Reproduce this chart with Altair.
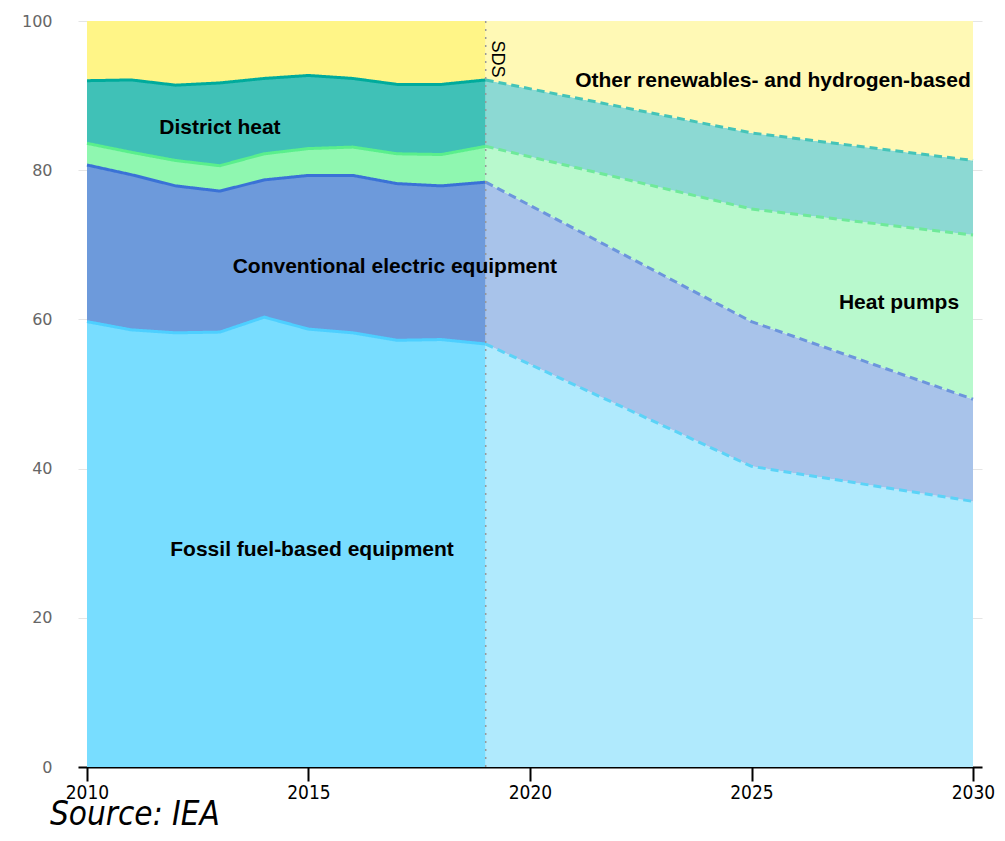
import altair as alt
import pandas as pd

categories = ["Fossil fuel-based equipment", "Conventional electric equipment",
              "Heat pumps", "District heat", "Other renewables- and hydrogen-based"]

hist_years = [2010, 2011, 2012, 2013, 2014, 2015, 2016, 2017, 2018, 2019]
hist_fossil = [59.7, 58.6, 58.2, 58.3, 60.3, 58.7, 58.2, 57.2, 57.3, 56.7]
hist_conv = [21.0, 20.8, 19.7, 18.9, 18.4, 20.6, 21.1, 21.0, 20.6, 21.7]
hist_hp = [2.9, 3.0, 3.4, 3.4, 3.5, 3.6, 3.8, 4.0, 4.2, 4.8]
hist_dh = [8.4, 9.7, 10.1, 11.1, 10.1, 9.8, 9.2, 9.3, 9.4, 8.9]
hist_other = [8.0, 7.9, 8.6, 8.3, 7.7, 7.3, 7.7, 8.5, 8.5, 7.9]

proj_years = [2019, 2025, 2030]
proj_fossil = [56.7, 40.3, 35.6]
proj_conv = [21.7, 19.4, 13.7]
proj_hp = [4.8, 15.1, 22.0]
proj_dh = [8.9, 10.2, 10.0]
proj_other = [7.9, 15.0, 18.7]

x_ticks = [2010, 2015, 2020, 2025, 2030]
y_ticks = [0, 20, 40, 60, 80, 100]

hist_fill = ["#78ddff", "#6d9adb", "#8ff7b0", "#40c1b7", "#fff587"]
hist_line = ["#4dcfff", "#3a72d6", "#5aef8c", "#00ab9c", "#fff587"]
proj_fill = ["#b0eafd", "#a8c3ea", "#b8f9cd", "#8cd9d3", "#fff9b5"]
proj_line = ["#5bd3f7", "#6c95dc", "#6fe99a", "#45c4b8", "#fff9b5"]

rows = []
for period, years, series in [
    ("hist", hist_years, [hist_fossil, hist_conv, hist_hp, hist_dh, hist_other]),
    ("proj", proj_years, [proj_fossil, proj_conv, proj_hp, proj_dh, proj_other]),
]:
    for i, (cat, vals) in enumerate(zip(categories, series)):
        for y, v in zip(years, vals):
            rows.append({"year": y, "value": v, "cat": cat, "order": i,
                         "period": period, "key": f"{period}-{i}"})
df = pd.DataFrame(rows)

keys = [f"hist-{i}" for i in range(5)] + [f"proj-{i}" for i in range(5)]
fill_range = hist_fill + proj_fill
line_range = hist_line + proj_line

ann_text = ["District heat", "Conventional electric equipment", "Fossil fuel-based equipment",
            "Other renewables- and hydrogen-based", "Heat pumps"]
ann_x = [2013.0, 2016.95, 2015.08, 2029.95, 2028.33]
ann_y = [85.7, 67.0, 29.1, 92.0, 62.2]
ann_align = ["center", "center", "center", "right", "center"]

xscale = alt.Scale(domain=[2010, 2030], padding=9, nice=False, zero=False)
yscale = alt.Scale(domain=[0, 100], nice=False)
xaxis = alt.Axis(values=x_ticks, format="d", title=None)
yaxis = alt.Axis(values=y_ticks, title=None)


def X(field):
    return alt.X(field, scale=xscale, axis=xaxis)


def Y(field):
    return alt.Y(field, scale=yscale, axis=yaxis)


base = alt.Chart(df).transform_stack(
    stack="value", groupby=["period", "year"], as_=["y0", "y1"],
    sort=[alt.SortField("order", order="ascending")]
)

areas = base.mark_area(interpolate="linear").encode(
    x=X("year:Q"), y=Y("y1:Q"), y2="y0:Q",
    color=alt.Color("key:N", scale=alt.Scale(domain=keys, range=fill_range), legend=None),
)

lines = base.transform_filter("datum.order < 4").mark_line(strokeWidth=3).encode(
    x=X("year:Q"), y=Y("y1:Q"),
    stroke=alt.Stroke("key:N", scale=alt.Scale(domain=keys, range=line_range), legend=None),
    strokeDash=alt.StrokeDash("period:N", scale=alt.Scale(domain=["hist", "proj"],
                                                           range=[[1, 0], [8, 5]]), legend=None),
)

rule = alt.Chart(pd.DataFrame({"x": [2019]})).mark_rule(
    color="#999", strokeWidth=1.5, strokeDash=[2, 6]
).encode(x=X("x:Q"))

sds = alt.Chart(pd.DataFrame({"x": [2019.25], "y": [94.9], "t": ["SDS"]})).mark_text(
    angle=90, align="center", baseline="middle", fontSize=18, font="Liberation Sans", color="#000"
).encode(x=X("x:Q"), y=Y("y:Q"), text="t:N")

label_layers = []
for t, x, y, a in zip(ann_text, ann_x, ann_y, ann_align):
    label_layers.append(
        alt.Chart(pd.DataFrame({"x": [x], "y": [y], "t": [t]})).mark_text(
            baseline="middle", align=a, fontSize=21, fontWeight="bold",
            font="Liberation Sans", color="#000"
        ).encode(x=X("x:Q"), y=Y("y:Q"), text="t:N")
    )

chart = alt.layer(areas, lines, rule, sds, *label_layers).properties(
    width=904, height=746,
    padding={"left": 70, "top": 13, "right": 14, "bottom": 66},
    autosize=alt.AutoSizeParams(type="none"),
    title=alt.TitleParams("Source: IEA", orient="bottom", anchor="start", frame="group",
                          fontSize=33, fontStyle="italic", fontWeight="normal",
                          font="DejaVu Sans Condensed", color="#000", dx=-28, offset=-3),
).configure(background="#ffffff").configure_view(stroke=None).configure_axisX(
    grid=False, domainColor="#000", domainWidth=2,
    ticks=True, tickColor="#000", tickWidth=2, tickSize=14,
    labelFont="DejaVu Sans Condensed", labelFontSize=19,
    labelColor="#000", labelPadding=2, labelFlush=False,
).configure_axisY(
    domain=False, ticks=False, grid=True, gridColor="#000", gridOpacity=0.1, gridWidth=1,
    labelFont="DejaVu Sans", labelFontSize=16, labelColor="#666", labelPadding=26, zindex=1,
)

chart.save("out.html", embed_options={"renderer": "svg", "actions": False})
